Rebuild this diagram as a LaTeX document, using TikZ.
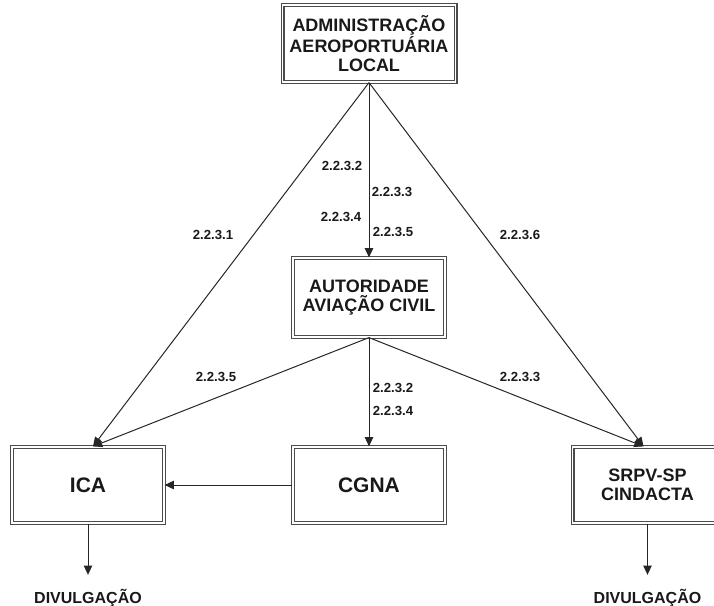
\documentclass[tikz,border=0pt]{standalone}
\usepackage{fontspec}
\setmainfont{Liberation Sans}
\usetikzlibrary{positioning,arrows.meta}

\begin{document}
\begin{tikzpicture}[auto,node distance=140pt,x=0.5pt,y=-0.5pt]
	\tikzstyle{box}=[rectangle,draw=black!70,double,double distance=0.8pt,line width=0.6pt,
		align=center,text=black!90,font=\bfseries\fontsize{9}{9.3}\selectfont,
		minimum width=76pt,minimum height=38pt,inner sep=2pt]
	\tikzstyle{big}=[font=\bfseries\fontsize{10.5}{12}\selectfont]
	\tikzstyle{num}=[inner sep=0pt,text=black!90,font=\bfseries\fontsize{6.6}{7}\selectfont]
	\tikzstyle{div}=[inner sep=0pt,text=black!90,font=\bfseries\fontsize{8}{9}\selectfont]
	\tikzstyle{arr}=[-{Triangle[length=4.6pt,width=4.2pt]},line width=0.5pt,draw=black!85]
	\useasboundingbox (0,0) rectangle (714,606);
	\clip (0,0) rectangle (714,606);
		\node[box,minimum width=86.5pt,minimum height=38.5pt] (adm) at (369,43.5) {ADMINISTRAÇÃO\\AEROPORTUÁRIA\\LOCAL};
		\node[box,minimum height=39.5pt] (aut) [below of=adm,node distance=127pt] {AUTORIDADE\\AVIAÇÃO CIVIL};
		\node[box,big] (cgna) [below of=aut,node distance=93.75pt] {CGNA};
		\node[box,big] (ica) [left of=cgna,node distance=140.5pt] {ICA};
		\node[box,minimum width=75pt] (srpv) [right of=cgna,node distance=139.25pt] {SRPV-SP\\CINDACTA};
		\node[div] (div1) [below of=ica,node distance=56.5pt] {DIVULGAÇÃO};
		\node[div] (div2) [below of=srpv,node distance=56.5pt] {DIVULGAÇÃO};
			\draw[arr] (adm.south) -- ([xshift=2.5pt]ica.north);
			\draw[arr] (adm.south) -- (aut.north);
			\draw[arr] (adm.south) -- ([xshift=-2pt]srpv.north);
			\draw[arr] (aut.south) -- ([xshift=2.5pt]ica.north);
			\draw[arr] (aut.south) -- (cgna.north);
			\draw[arr] (aut.south) -- ([xshift=-2pt]srpv.north);
			\draw[arr] (cgna.west) -- (ica.east);
			\draw[arr,shorten >=7pt] (ica.south) -- (div1.north);
			\draw[arr,shorten >=7pt] (srpv.south) -- (div2.north);
		% numeros dos itens
		\node[num] (n1) at (213,235) {2.2.3.1};
		\node[num] (n2) at (342,166) {2.2.3.2};
		\node[num] (n3) at (392,192) {2.2.3.3};
		\node[num] (n4) at (341,217) {2.2.3.4};
		\node[num] (n5) at (393,232) {2.2.3.5};
		\node[num] (n6) at (520,235) {2.2.3.6};
		\node[num] (m5) at (216,377) {2.2.3.5};
		\node[num] (m2) at (393,388) {2.2.3.2};
		\node[num] (m4) at (393,411) {2.2.3.4};
		\node[num] (m3) at (520,377) {2.2.3.3};
\end{tikzpicture}
\end{document}
